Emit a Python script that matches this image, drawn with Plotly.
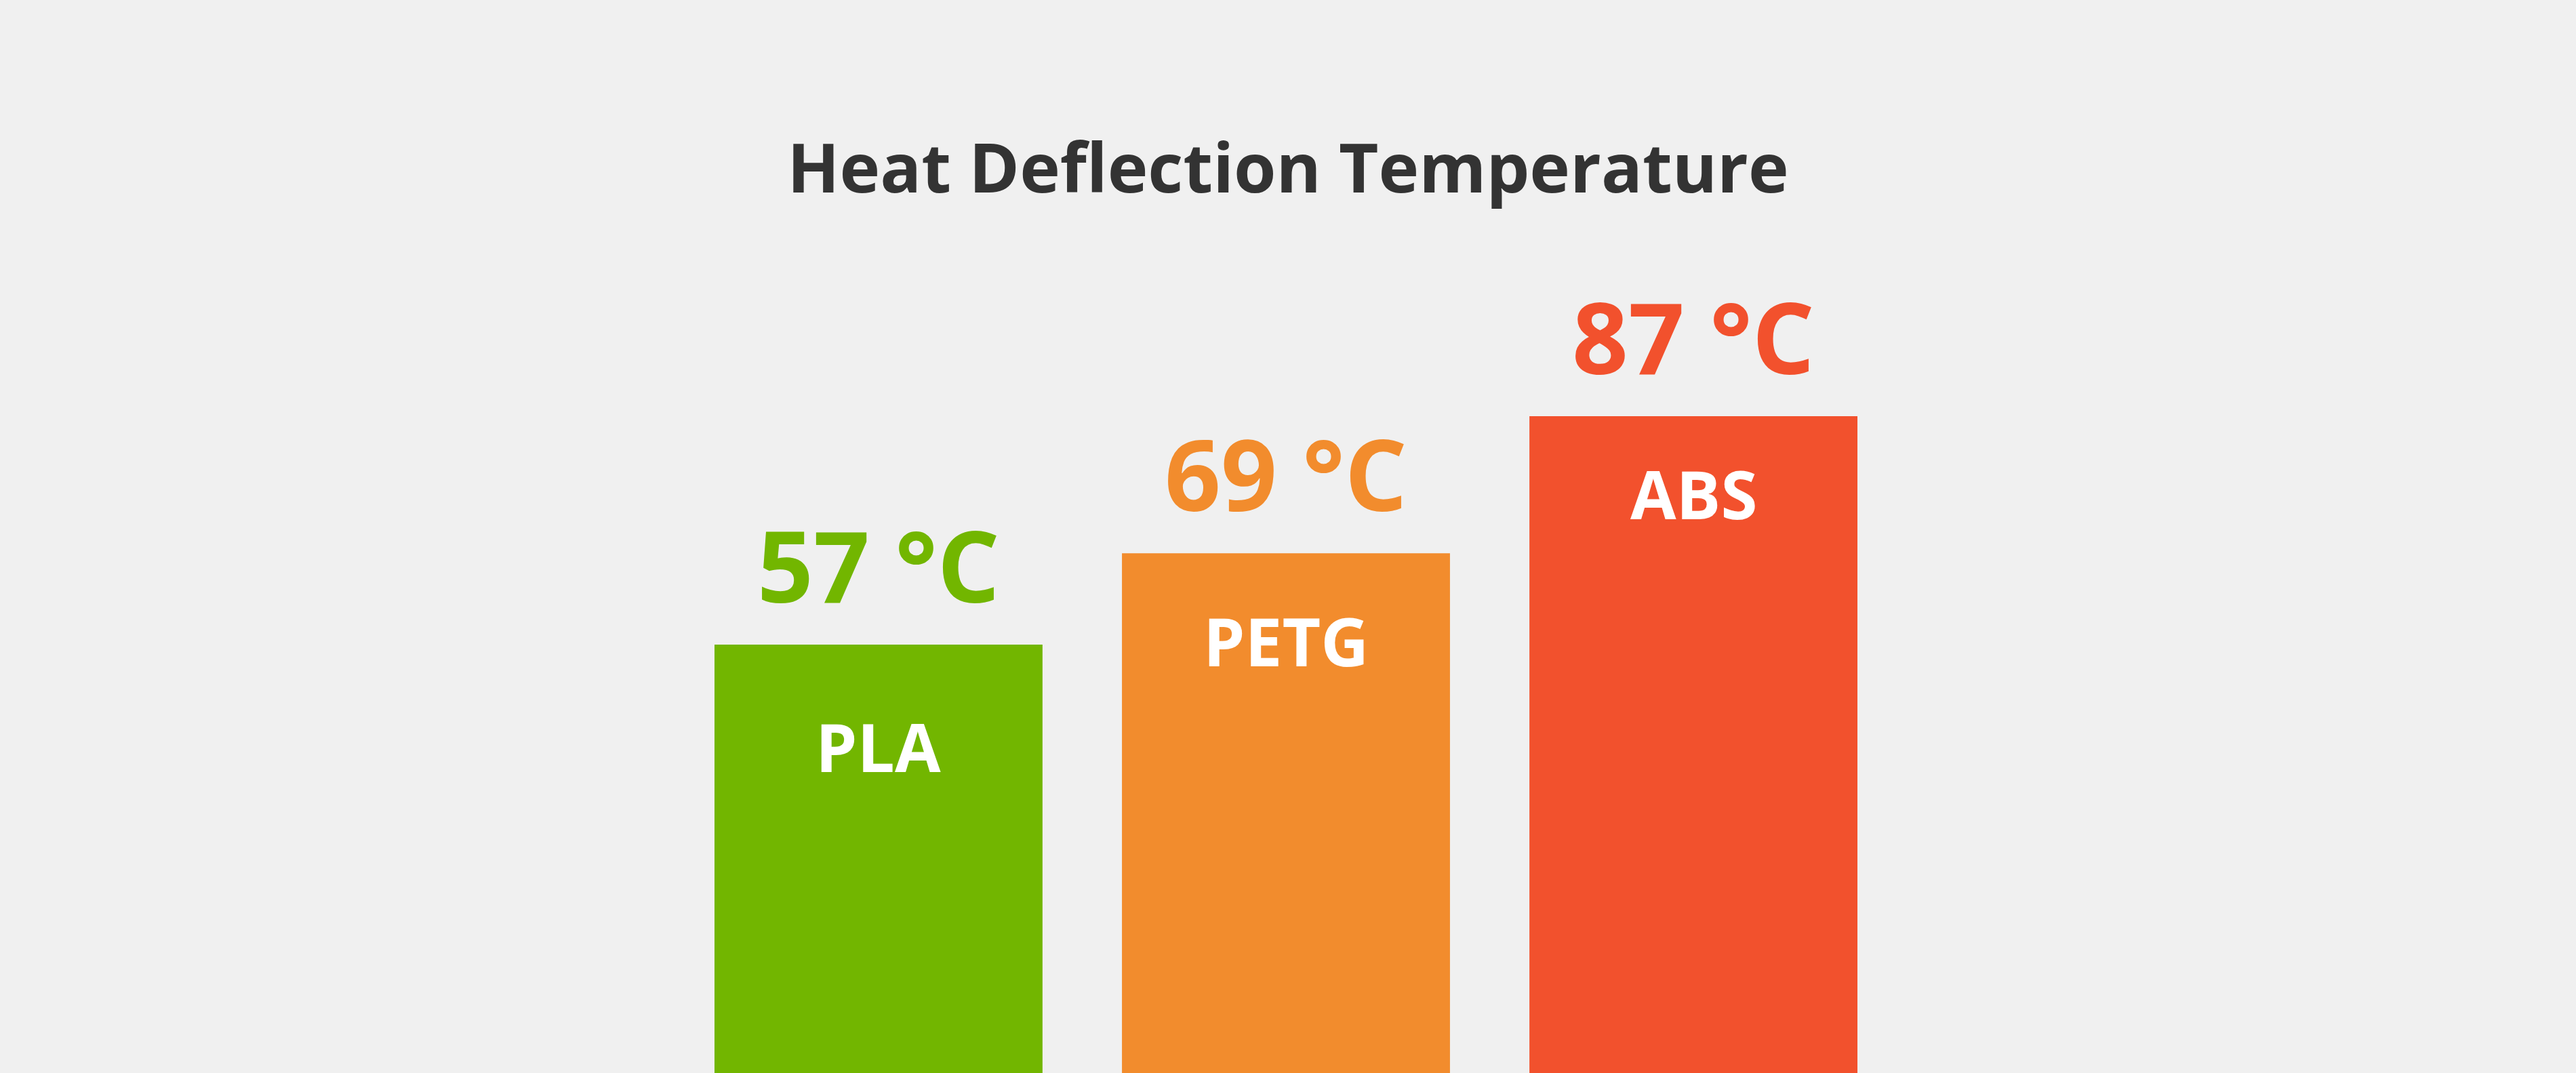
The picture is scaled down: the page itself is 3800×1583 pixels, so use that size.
"""
Heat deflection temperature of common 3D printing filaments as a bar chart.
"""

import plotly.graph_objects as go

# data
materials = ["PLA", "PETG", "ABS"]
hdt_celsius = [57, 69, 87]
value_labels = ["57 °C", "69 °C", "87 °C"]

# styling
BAR_COLORS = ["#72B600", "#F28C2D", "#F2512D"]
BG_COLOR = "#F0F0F0"
TITLE_COLOR = "#333333"
FONT = "Open Sans"
# how far the material name sits below the top of each bar (px)
NAME_DROP = [81, 60, 45]

fig = go.Figure()

fig.add_trace(go.Bar(
    x=materials,
    y=hdt_celsius,
    marker={"color": BAR_COLORS, "line_width": 0},
    hoverinfo="skip",
    showlegend=False,
))

# value labels above the bars, names inside them
for name, value, label, color, drop in zip(
        materials, hdt_celsius, value_labels, BAR_COLORS, NAME_DROP):
    fig.add_annotation(
        x=name, y=value, text=label, showarrow=False,
        xanchor="center", yanchor="bottom", yshift=18,
        font={"family": FONT, "size": 145, "color": color, "weight": 700},
    )
    fig.add_annotation(
        x=name, y=value, text=name, showarrow=False,
        xanchor="center", yanchor="top", yshift=-drop,
        font={"family": FONT, "size": 98, "color": "white", "weight": 700},
    )

fig.update_layout(
    width=3800,
    height=1583,
    margin={"l": 0, "r": 0, "t": 0, "b": 0},
    paper_bgcolor=BG_COLOR,
    plot_bgcolor=BG_COLOR,
    bargap=0.195,
    title={
        "text": "Heat Deflection Temperature",
        "x": 0.5, "xanchor": "center",
        "yref": "container", "y": 1 - 213 / 1583, "yanchor": "top",
        "font": {"family": FONT, "size": 101, "color": TITLE_COLOR,
                 "weight": 700},
    },
    xaxis={"range": [-2.156, 4.166], "visible": False, "fixedrange": True},
    yaxis={"range": [0.7, 141.7], "visible": False, "fixedrange": True},
)

# drop the default page margin so the figure fills the window exactly
fig.write_html(
    "out.html",
    config={"displayModeBar": False},
    post_script="document.body.style.margin='0';"
                "document.body.style.background='#F0F0F0';",
)
